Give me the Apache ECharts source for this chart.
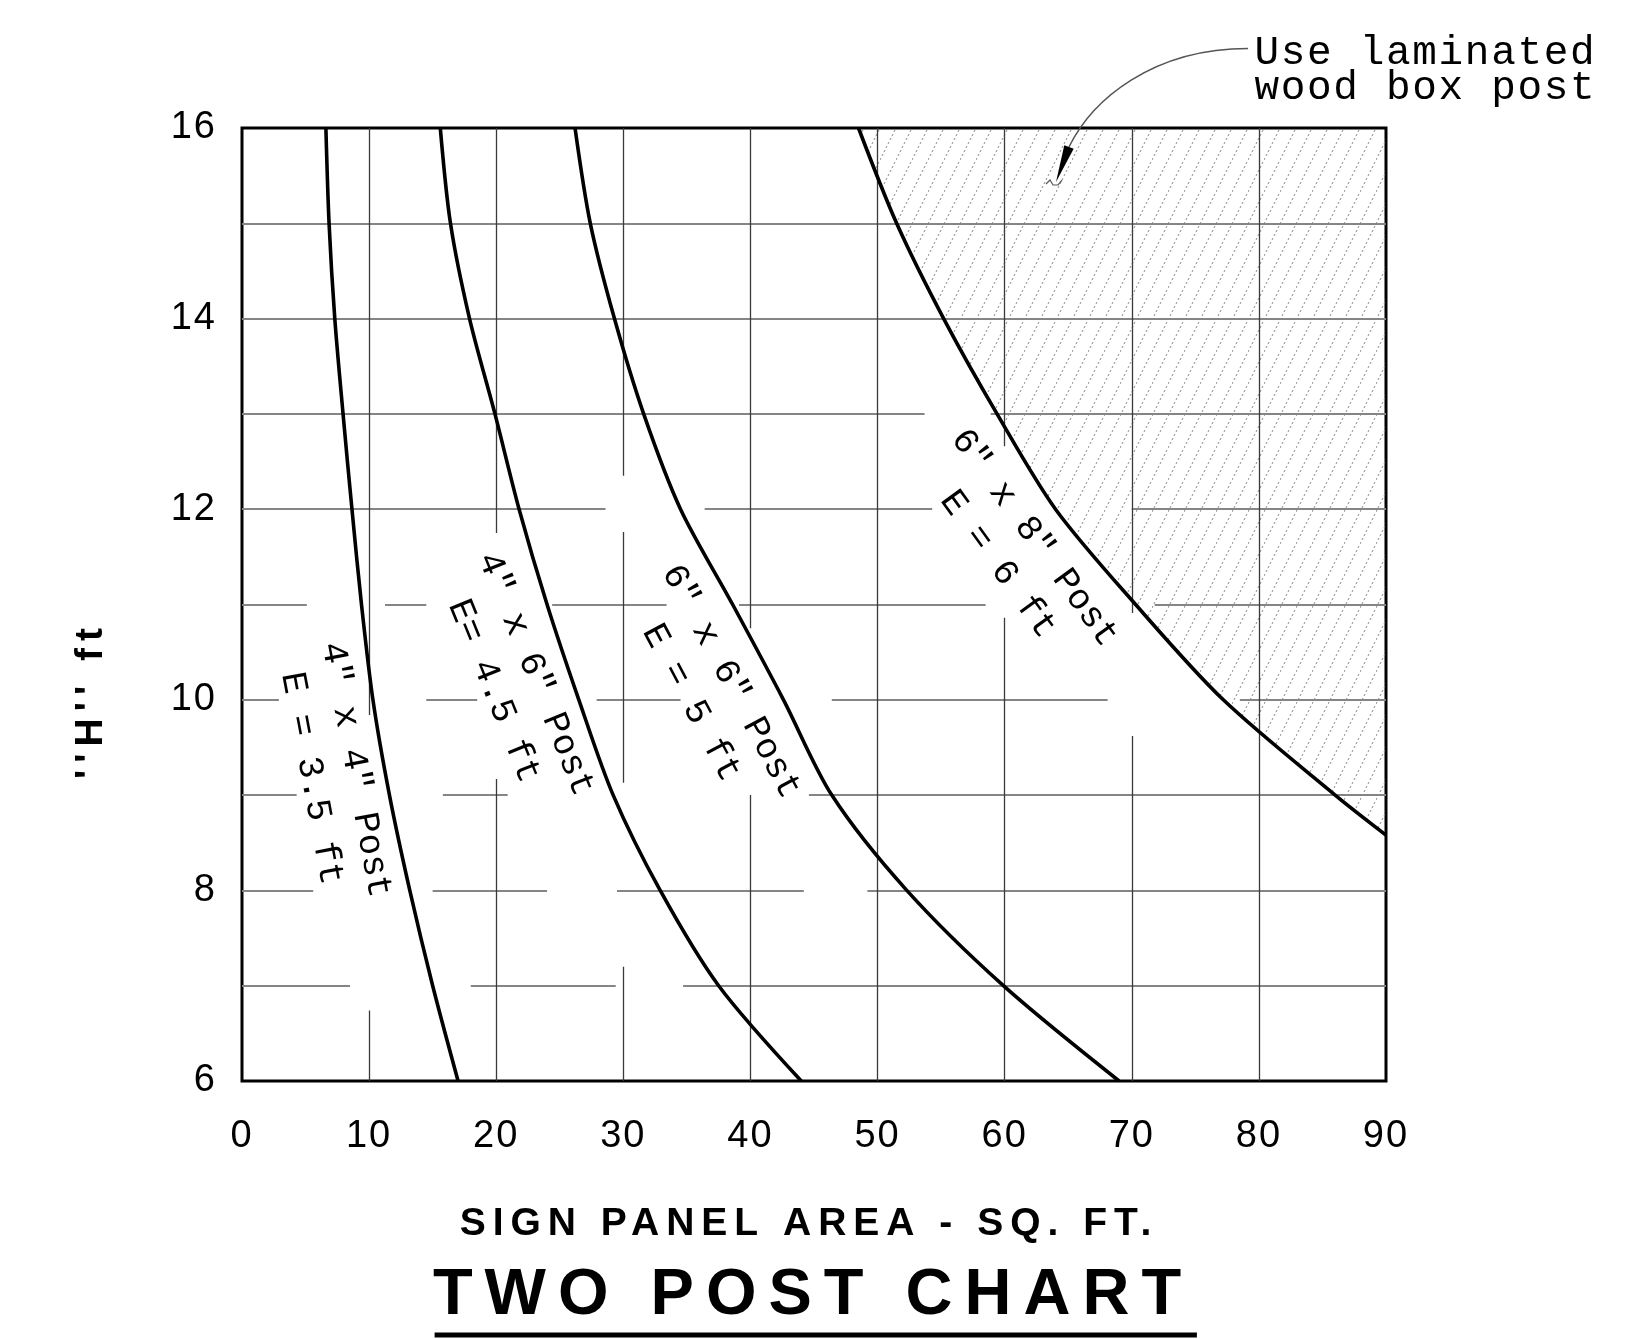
<!DOCTYPE html>
<html>
<head>
<meta charset="utf-8">
<script src="https://cdn.jsdelivr.net/npm/echarts@6/dist/echarts.min.js"></script>
<style>
html,body{margin:0;padding:0;background:#fff;}
#c{width:1633px;height:1339px;}
</style>
</head>
<body>
<div id="c"></div>
<script>
// ---------------- DATA ----------------
const xRange = [0, 90];
const yRange = [6, 16];
const xInterval = 10;
const yInterval = 2;

// curves: [sign panel area (sq ft), H (ft)]
const post4x4 = [[6.6,16],[6.85,15],[7.3,14],[7.95,13],[8.65,12],[9.4,11],[10.3,10],[11.6,9],[13.2,8],[15.0,7],[17.0,6]];
const post4x6 = [[15.6,16],[16.4,15],[17.9,14],[19.9,13],[21.8,12],[24.0,11],[26.5,10],[29.2,9],[32.9,8],[37.5,7],[44.0,6]];
const post6x6 = [[26.2,16],[27.4,15],[29.3,14],[31.6,13],[34.5,12],[38.6,11],[42.6,10],[46.4,9],[52.3,8],[59.9,7],[69.0,6]];
const post6x8 = [[48.5,16],[51.5,15],[55.2,14],[59.4,13],[64.0,12],[70.3,11],[77.2,10],[86.0,9],[90,8.58]];

// curve labels (two lines each) and their anchor in data units + direction angle (deg)
const labelText = [
  ['4" x 4" Post', 'E = 3.5 ft'],
  ['4" x 6" Post', 'E= 4.5 ft'],
  ['6" x 6" Post', 'E = 5 ft'],
  ['6" x 8" Post', 'E = 6 ft']
];
const labelAnchor = [[7.2, 9.22], [21.45, 10.18], [36.9, 10.08], [60.9, 11.56]];
const labelAngle = [79.3, 68, 62, 54];

// broken grid lines (CAD drawing gaps), data units
const hGridLines = [
  [15, [[0,90]]],
  [14, [[0,90]]],
  [13, [[0,53.7],[58.9,90]]],
  [12, [[0,28.6],[36.4,54.3],[70,90]]],
  [11, [[0,5.1],[11.25,14.5],[24.4,33.4],[39.1,58.5],[71.8,90]]],
  [10, [[0,2.9],[14.5,18.5],[27.9,34.5],[46.4,68.1],[78.5,90]]],
  [9,  [[0,4.3],[15.8,20.9],[44.6,90]]],
  [8,  [[0,5.6],[15.0,24.0],[29.5,44.2],[49.2,90]]],
  [7,  [[0,8.5],[18,29.4],[34.7,90]]]
];
const vGridLines = [
  [10, [[9.84,16],[6,6.74]]],
  [20, [[11.75,16],[6,9.17]]],
  [30, [[12.35,16],[9.13,11.76],[6,7.2]]],
  [40, [[10.75,16],[6,9.0]]],
  [50, [[6,16]]],
  [60, [[12.66,16],[6,10.86]]],
  [70, [[10.91,16],[6,9.62]]],
  [80, [[6,16]]]
];

// annotation
const noteLines = ['Use laminated', 'wood box post'];
const noteAnchor = [[79.65, 16.79], [79.65, 16.42]];
const leaderCurve = [[79.15,16.835],[71.6,16.835],[66.87,16.294],[65.06,15.801]];
const leaderTip = [64.04, 15.433];
const leaderSquiggle = [[63.25,15.412],[63.57,15.454],[63.80,15.402],[64.20,15.402],[64.51,15.454]];

const xAxisName = 'SIGN PANEL AREA - SQ. FT.';
const yAxisName = "''H'' ft";
const chartTitle = 'TWO POST CHART';

// ------------- letter spacing (CAD lettering) -------------
const SPACING = [['65px','12px'],['39px','7px'],['41px','1.7px'],['38px','2px']];
function applySpacing(ctx){
  if (!('letterSpacing' in ctx)) return;
  const f = ctx.font; let ls = '0px';
  for (const r of SPACING) { if (f.indexOf(r[0]) >= 0) { ls = r[1]; break; } }
  ctx.letterSpacing = ls;
}
const _fill = CanvasRenderingContext2D.prototype.fillText;
const _stroke = CanvasRenderingContext2D.prototype.strokeText;
CanvasRenderingContext2D.prototype.fillText = function(){ applySpacing(this); return _fill.apply(this, arguments); };
CanvasRenderingContext2D.prototype.strokeText = function(){ applySpacing(this); return _stroke.apply(this, arguments); };

// ------------- chart -------------
function makeHatch(){
  const c = document.createElement('canvas');
  c.width = 16; c.height = 32;
  const ctx = c.getContext('2d');
  ctx.strokeStyle = '#8c8c8c';
  ctx.lineWidth = 1;
  ctx.setLineDash([2.236, 2.236]);
  ctx.beginPath(); ctx.moveTo(0, 32); ctx.lineTo(16, 0); ctx.stroke();
  return c;
}

const hData = [];
hGridLines.forEach(([y, spans]) => spans.forEach(([a, b]) => hData.push({coords: [[a, y], [b, y]]})));
const vData = [];
vGridLines.forEach(([x, spans]) => spans.forEach(([a, b]) => vData.push({coords: [[x, a], [x, b]]})));

const chart = echarts.init(document.getElementById('c'), null, {renderer: 'canvas'});

function curve(data){
  return {type: 'line', data: data, symbol: 'none', smooth: 0.3,
          lineStyle: {color: '#000', width: 3.6}, silent: true, z: 5};
}

chart.setOption({
  animation: false,
  backgroundColor: '#fff',
  grid: {left: 242, right: 247, top: 128, bottom: 258, show: true, borderColor: '#000', borderWidth: 3, backgroundColor: 'transparent'},
  xAxis: {type: 'value', min: xRange[0], max: xRange[1], interval: xInterval,
    axisLine: {show: false}, axisTick: {show: false}, splitLine: {show: false},
    axisLabel: {fontSize: 38, fontFamily: 'Liberation Sans', color: '#000', margin: 37}},
  yAxis: {type: 'value', min: yRange[0], max: yRange[1], interval: yInterval,
    axisLine: {show: false}, axisTick: {show: false}, splitLine: {show: false},
    axisLabel: {fontSize: 38, fontFamily: 'Liberation Sans', color: '#000', margin: 25}},
  series: [
    {type: 'line', data: post6x8, symbol: 'none', smooth: 0.3,
     lineStyle: {width: 0, opacity: 0},
     areaStyle: {origin: 'end', color: {image: makeHatch(), repeat: 'repeat'}, opacity: 1},
     silent: true, z: 1},
    {type: 'lines', coordinateSystem: 'cartesian2d', data: hData, silent: true, z: 2,
     lineStyle: {color: '#858585', width: 2, opacity: 1, curveness: 0}},
    {type: 'lines', coordinateSystem: 'cartesian2d', data: vData, silent: true, z: 2,
     lineStyle: {color: '#3a3a3a', width: 1.3, opacity: 1, curveness: 0}},
    curve(post4x4), curve(post4x6), curve(post6x6), curve(post6x8)
  ]
});

const px = p => chart.convertToPixel({gridIndex: 0}, p);
const graphics = [];

labelText.forEach((lines, i) => {
  const p = px(labelAnchor[i]);
  graphics.push({type: 'text', x: p[0], y: p[1], rotation: -labelAngle[i] * Math.PI / 180, z: 20,
    style: {text: lines.join('\n'), font: '36px "Liberation Mono"', fill: '#000',
            align: 'center', verticalAlign: 'middle', lineHeight: 45}});
});

noteLines.forEach((t, i) => {
  const p = px(noteAnchor[i]);
  graphics.push({type: 'text', x: p[0], y: p[1], z: 20,
    style: {text: t, font: '41px "Liberation Mono"', fill: '#000', align: 'left', verticalAlign: 'middle'}});
});

const c0 = px(leaderCurve[0]), c1 = px(leaderCurve[1]), c2 = px(leaderCurve[2]), c3 = px(leaderCurve[3]);
graphics.push({type: 'bezierCurve', z: 20,
  shape: {x1: c0[0], y1: c0[1], cpx1: c1[0], cpy1: c1[1], cpx2: c2[0], cpy2: c2[1], x2: c3[0], y2: c3[1]},
  style: {stroke: '#555', lineWidth: 1.5, fill: null}});
const tip = px(leaderTip);
let dx = tip[0] - c3[0], dy = tip[1] - c3[1];
const len = Math.hypot(dx, dy); dx /= len; dy /= len;
const nx = -dy, ny = dx, hw = 5;
graphics.push({type: 'polygon', z: 21,
  shape: {points: [[c3[0] + nx * hw, c3[1] + ny * hw], [tip[0], tip[1]], [c3[0] - nx * hw, c3[1] - ny * hw]]},
  style: {fill: '#000'}});
graphics.push({type: 'polyline', z: 21, shape: {points: leaderSquiggle.map(px)},
  style: {stroke: '#555', lineWidth: 1.2, fill: null}});

// axis names and title
graphics.push({type: 'text', x: 809, y: 1224.5, z: 20,
  style: {text: xAxisName, font: 'bold 39px "Liberation Sans"', fill: '#000', align: 'center', verticalAlign: 'middle'}});
graphics.push({type: 'text', x: 91, y: 700, rotation: Math.PI / 2, z: 20,
  style: {text: yAxisName, font: 'bold 39px "Liberation Sans"', fill: '#000', align: 'center', verticalAlign: 'middle'}});
graphics.push({type: 'text', x: 813, y: 1296.5, z: 20,
  style: {text: chartTitle, font: 'bold 65px "Liberation Sans"', fill: '#000', align: 'center', verticalAlign: 'middle'}});
graphics.push({type: 'line', z: 20, shape: {x1: 434.6, y1: 1335, x2: 1196.9, y2: 1335},
  style: {stroke: '#000', lineWidth: 5}});

chart.setOption({graphic: graphics});
</script>
</body>
</html>
